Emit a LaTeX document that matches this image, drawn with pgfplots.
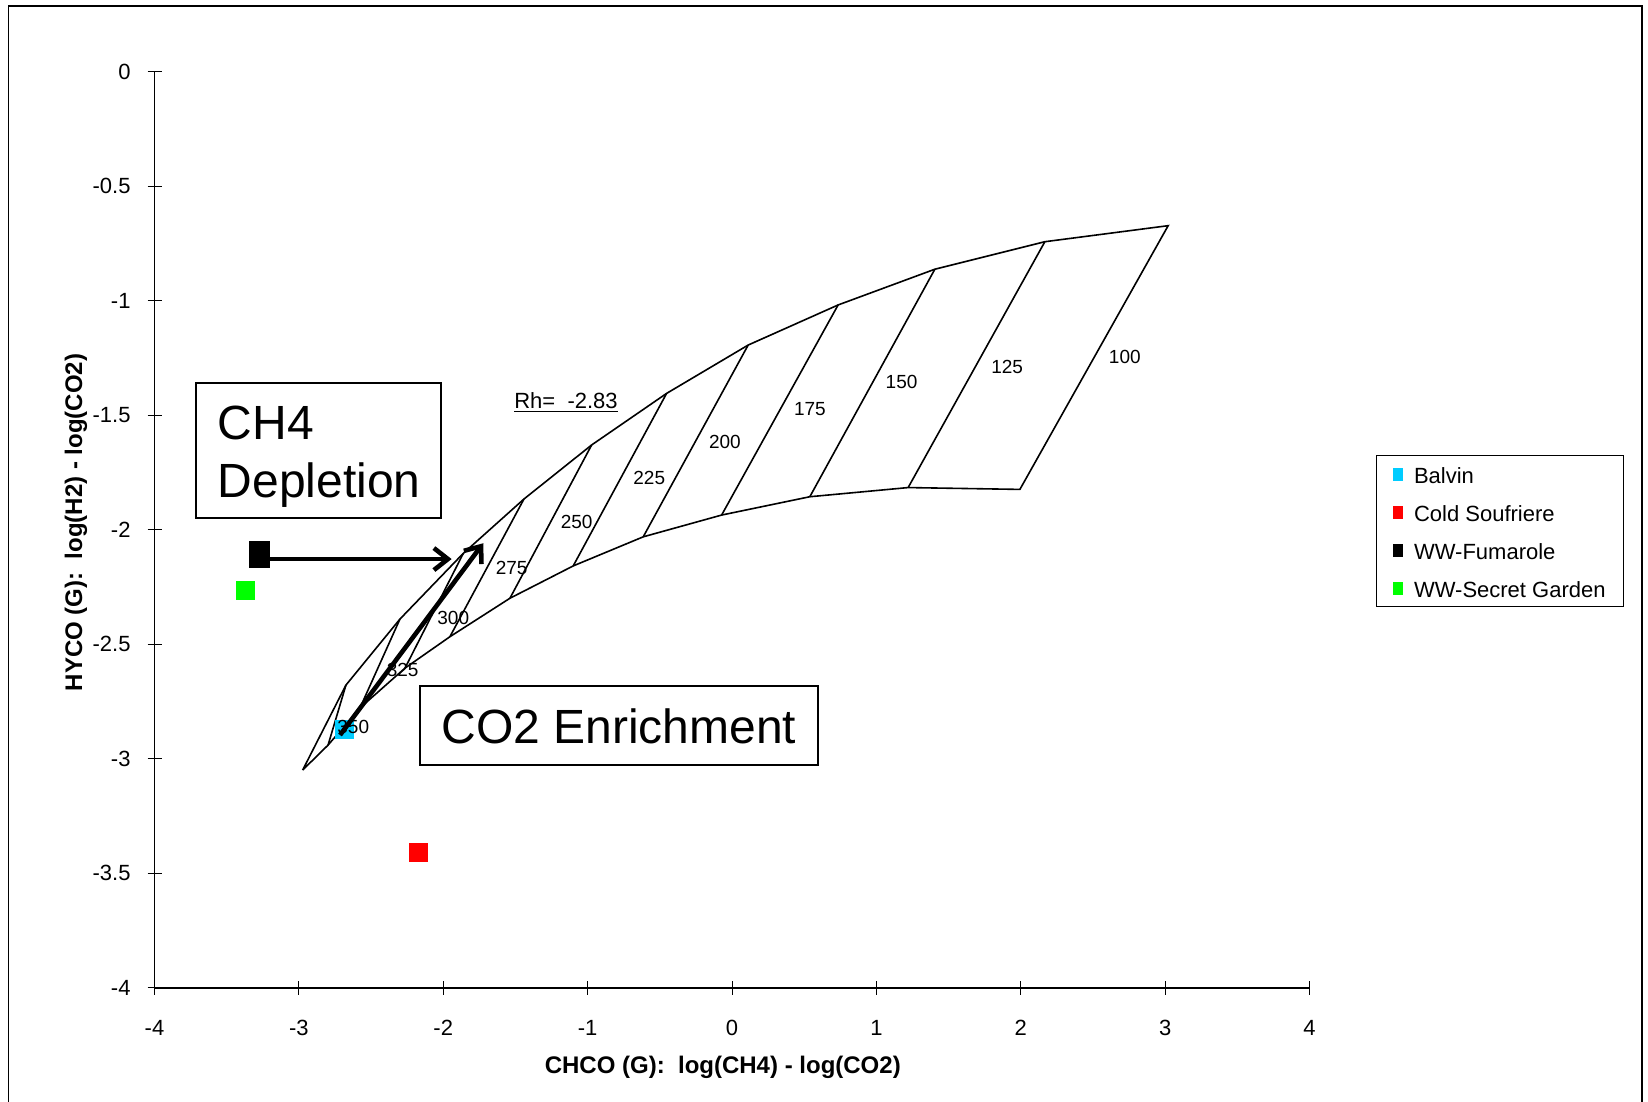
\documentclass[border=0pt]{standalone}
\usepackage{fontspec}
\setmainfont{Liberation Sans}
\usepackage{pgfplots}
\pgfplotsset{compat=1.18}
\usetikzlibrary{arrows.meta}

\definecolor{balvin}{RGB}{0,204,255}
\definecolor{soufriere}{RGB}{255,0,0}
\definecolor{secret}{RGB}{0,255,0}

\begin{document}
\begin{tikzpicture}
\begin{axis}[
  set layers=standard,
  scale only axis, width=577.5pt, height=458.25pt,
  xmin=-4, xmax=4, ymin=-4, ymax=0,
  axis x line*=bottom, axis y line*=left,
  x axis line style={line width=1.1pt},
  y axis line style={line width=0.5pt},
  tick align=center,
  major tick length=7pt,
  tick style={black, line width=0.5pt},
  xtick={-4,-3,-2,-1,0,1,2,3,4},
  xticklabels={-4,-3,-2,-1,0,1,2,3,4},
  ytick={-4,-3.5,-3,-2.5,-2,-1.5,-1,-0.5,0},
  yticklabels={-4,-3.5,-3,-2.5,-2,-1.5,-1,-0.5,0},
  ticklabel style={font=\fontsize{11}{13}\selectfont},
  xticklabel style={anchor=center, inner sep=0pt, yshift=-16.6pt},
  yticklabel style={anchor=east, inner sep=0pt, xshift=-8.3pt},
  xlabel={CHCO (G):\ \ log(CH4) - log(CO2)},
  ylabel={HYCO (G):\ \ log(H2) - log(CO2)},
  label style={font=\fontsize{12}{14}\bfseries},
  xlabel style={at={(axis description cs:0.492,-0.0862)}, anchor=center},
  ylabel style={at={(axis description cs:-0.068,0.508)}, anchor=center},
  clip=false,
  legend image code/.code={\fill[#1] (0pt,-3.3pt) rectangle (4.6pt,2.9pt);},
  legend style={
    at={(rel axis cs:1.0576,0.5816)}, anchor=north west,
    draw=black, line width=0.6pt,
    font=\fontsize{11}{13}\selectfont,
    inner xsep=8pt, inner ysep=3pt,
    row sep=6.6pt,
    nodes={inner sep=1pt, text height=10pt, text depth=0.4pt},
    /tikz/every odd column/.append style={column sep=4.5pt},
  },
  legend cell align=left,
]

% outer chart frame and page extent
\draw[line width=0.9pt] (rel axis cs:-0.1265,-0.2) -- (rel axis cs:-0.1265,1.0718)
   -- (rel axis cs:1.2879,1.0718) -- (rel axis cs:1.2879,-0.2);
\coordinate (pgsw) at (rel axis cs:-0.13377,-0.12439);
\coordinate (pgne) at (rel axis cs:1.29307,1.07801);

% equilibrium grid outline (Rh = -2.83): upper curve, 100 C side, lower curve
\addplot[black, line width=0.8pt, forget plot] coordinates {
  (-2.974,-3.049) (-2.674,-2.678) (-2.300,-2.390) (-1.861,-2.103) (-1.441,-1.866)
  (-0.972,-1.630) (-0.453,-1.405) (0.112,-1.194) (0.735,-1.019) (1.405,-0.863)
  (2.167,-0.743) (3.021,-0.673)
  (1.994,-1.824) (1.220,-1.816) (0.539,-1.856) (-0.072,-1.936) (-0.615,-2.031)
  (-1.100,-2.158) (-1.538,-2.299) (-1.954,-2.467) (-2.265,-2.604) (-2.577,-2.778)
  (-2.798,-2.940) (-2.974,-3.049)
};
% isotherms
\addplot[black, line width=0.8pt, forget plot] coordinates {(2.167,-0.743) (1.220,-1.816)};
\addplot[black, line width=0.8pt, forget plot] coordinates {(1.405,-0.863) (0.539,-1.856)};
\addplot[black, line width=0.8pt, forget plot] coordinates {(0.735,-1.019) (-0.072,-1.936)};
\addplot[black, line width=0.8pt, forget plot] coordinates {(0.112,-1.194) (-0.615,-2.031)};
\addplot[black, line width=0.8pt, forget plot] coordinates {(-0.453,-1.405) (-1.100,-2.158)};
\addplot[black, line width=0.8pt, forget plot] coordinates {(-0.972,-1.630) (-1.538,-2.299)};
\addplot[black, line width=0.8pt, forget plot] coordinates {(-1.441,-1.866) (-1.954,-2.467)};
\addplot[black, line width=0.8pt, forget plot] coordinates {(-1.861,-2.103) (-2.265,-2.604)};
\addplot[black, line width=0.8pt, forget plot] coordinates {(-2.300,-2.390) (-2.577,-2.778)};
\addplot[black, line width=0.8pt, forget plot] coordinates {(-2.674,-2.678) (-2.798,-2.940)};

% samples
\addplot[only marks, mark=square*, mark size=4.5pt, color=balvin] coordinates {(-2.683,-2.871)};
\addlegendentry{Balvin}
\addplot[only marks, mark=square*, mark size=4.6pt, color=soufriere] coordinates {(-2.173,-3.408)};
\addlegendentry{Cold Soufriere}
\addplot[only marks, mark=square*, mark size=4.5pt, color=black,
  mark options={xscale=1.1, yscale=1.45}] coordinates {(-3.274,-2.106)};
\addlegendentry{WW-Fumarole}
\addplot[only marks, mark=square*, mark size=4.6pt, color=secret] coordinates {(-3.371,-2.265)};
\addlegendentry{WW-Secret Garden}

\begin{pgfonlayer}{axis foreground}
% isotherm labels
\begin{scope}[every node/.style={font=\fontsize{9.5}{11}\selectfont, inner sep=0pt}]
\node at (axis cs:2.7209,-1.2475) {100};
\node at (axis cs:1.9058,-1.2885) {125};
\node at (axis cs:1.1745,-1.3540) {150};
\node at (axis cs:0.5395,-1.4745) {175};
\node at (axis cs:-0.0491,-1.6159) {200};
\node at (axis cs:-0.5734,-1.7756) {225};
\node at (axis cs:-1.0762,-1.9651) {250};
\node at (axis cs:-1.5263,-2.1685) {275};
\node at (axis cs:-1.9307,-2.3867) {300};
\node at (axis cs:-2.2812,-2.6124) {325};
\node at (axis cs:-2.6233,-2.8599) {350};
\end{scope}

\node[anchor=base west, inner sep=0pt, font=\fontsize{11}{13}\selectfont]
  at (axis cs:-1.5104,-1.4701) {\underline{Rh=\ \ -2.83}};

% process arrows
\draw[line width=2.3pt, -{Straight Barb[length=7pt, width=11pt]}]
  (axis cs:-3.27,-2.128) -- (axis cs:-1.942,-2.128);
\draw[line width=2.3pt, -{Straight Barb[length=7pt, width=11pt]}]
  (axis cs:-2.715,-2.896) -- (axis cs:-1.723,-2.059);

% annotation boxes
\draw[line width=1pt] (axis cs:-3.7126,-1.3597) rectangle (axis cs:-2.0180,-1.9502);
\node[anchor=base west, inner sep=0pt, font=\fontsize{24}{28}\selectfont]
  at (axis cs:-3.5651,-1.6054) {CH4};
\node[anchor=base west, inner sep=0pt, font=\fontsize{24}{28}\selectfont]
  at (axis cs:-3.5651,-1.8603) {Depletion};
\draw[line width=1pt] (axis cs:-2.1600,-2.6822) rectangle (axis cs:0.5928,-3.0271);
\node[anchor=base, inner sep=0pt, font=\fontsize{24}{28}\selectfont]
  at (axis cs:-0.7836,-2.934) {CO2 Enrichment};
\end{pgfonlayer}
\end{axis}
\pgfresetboundingbox
\useasboundingbox (pgsw) rectangle (pgne);
\end{tikzpicture}
\end{document}
